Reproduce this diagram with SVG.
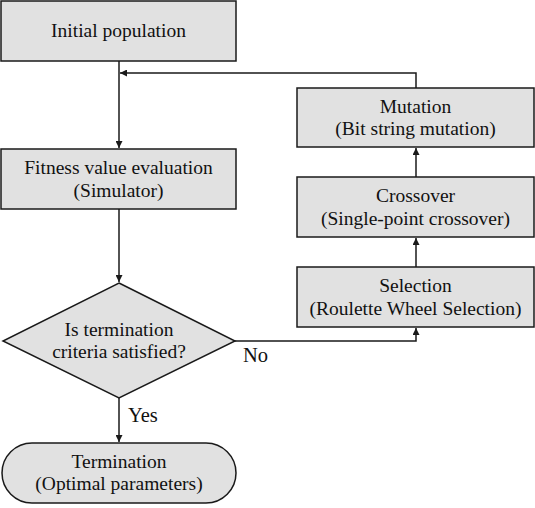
<svg xmlns="http://www.w3.org/2000/svg" width="535" height="508" viewBox="0 0 535 508">
<defs>
<style>
.n{fill:#e1e1e1;stroke:#1a1a1a;stroke-width:1.5}
.t{font-family:"Liberation Serif","Times New Roman",serif;font-size:19.5px;fill:#111;text-anchor:middle}
.l{font-family:"Liberation Serif","Times New Roman",serif;font-size:20.5px;fill:#111}
.c{fill:none;stroke:#1a1a1a;stroke-width:1.5}
</style>
<marker id="a" viewBox="0 0 10 10" refX="10" refY="5" markerWidth="7" markerHeight="7" markerUnits="userSpaceOnUse" orient="auto">
<path d="M0,0 L10,5 L0,10 z" fill="#1a1a1a"/>
</marker>
</defs>
<rect width="535" height="508" fill="#fff"/>
<g id="connectors">
<path class="c" d="M119,61 V148" marker-end="url(#a)"/>
<path class="c" d="M416,88 V73 H120" marker-end="url(#a)"/>
<path class="c" d="M119,209 V282" marker-end="url(#a)"/>
<path class="c" d="M119,398 V442" marker-end="url(#a)"/>
<path class="c" d="M235,341 H416 V328" marker-end="url(#a)"/>
<path class="c" d="M416,267 V238" marker-end="url(#a)"/>
<path class="c" d="M416,177 V148" marker-end="url(#a)"/>
<text class="l" x="243" y="362">No</text>
<text class="l" x="128" y="422">Yes</text>
</g>
<g id="initial">
<rect class="n" x="1" y="1" width="235" height="60"/>
<text class="t" x="118.5" y="37">Initial population</text>
</g>
<g id="fitness">
<rect class="n" x="1" y="149" width="235" height="60"/>
<text class="t" x="118.5" y="174">Fitness value evaluation</text>
<text class="t" x="118.5" y="197">(Simulator)</text>
</g>
<g id="decision">
<polygon class="n" points="119,283 235,341 119,398 3,341"/>
<text class="t" x="119" y="336">Is termination</text>
<text class="t" x="119" y="358">criteria satisfied?</text>
</g>
<g id="termination">
<rect class="n" x="2" y="443" width="234" height="60" rx="30" ry="30"/>
<text class="t" x="119" y="468">Termination</text>
<text class="t" x="119" y="490">(Optimal parameters)</text>
</g>
<g id="mutation">
<rect class="n" x="297" y="88" width="237" height="59"/>
<text class="t" x="415.5" y="113">Mutation</text>
<text class="t" x="415.5" y="135">(Bit string mutation)</text>
</g>
<g id="crossover">
<rect class="n" x="297" y="177" width="237" height="60"/>
<text class="t" x="415.5" y="202">Crossover</text>
<text class="t" x="415.5" y="225">(Single-point crossover)</text>
</g>
<g id="selection">
<rect class="n" x="297" y="267" width="237" height="60"/>
<text class="t" x="415.5" y="292">Selection</text>
<text class="t" x="415.5" y="315">(Roulette Wheel Selection)</text>
</g>
</svg>
